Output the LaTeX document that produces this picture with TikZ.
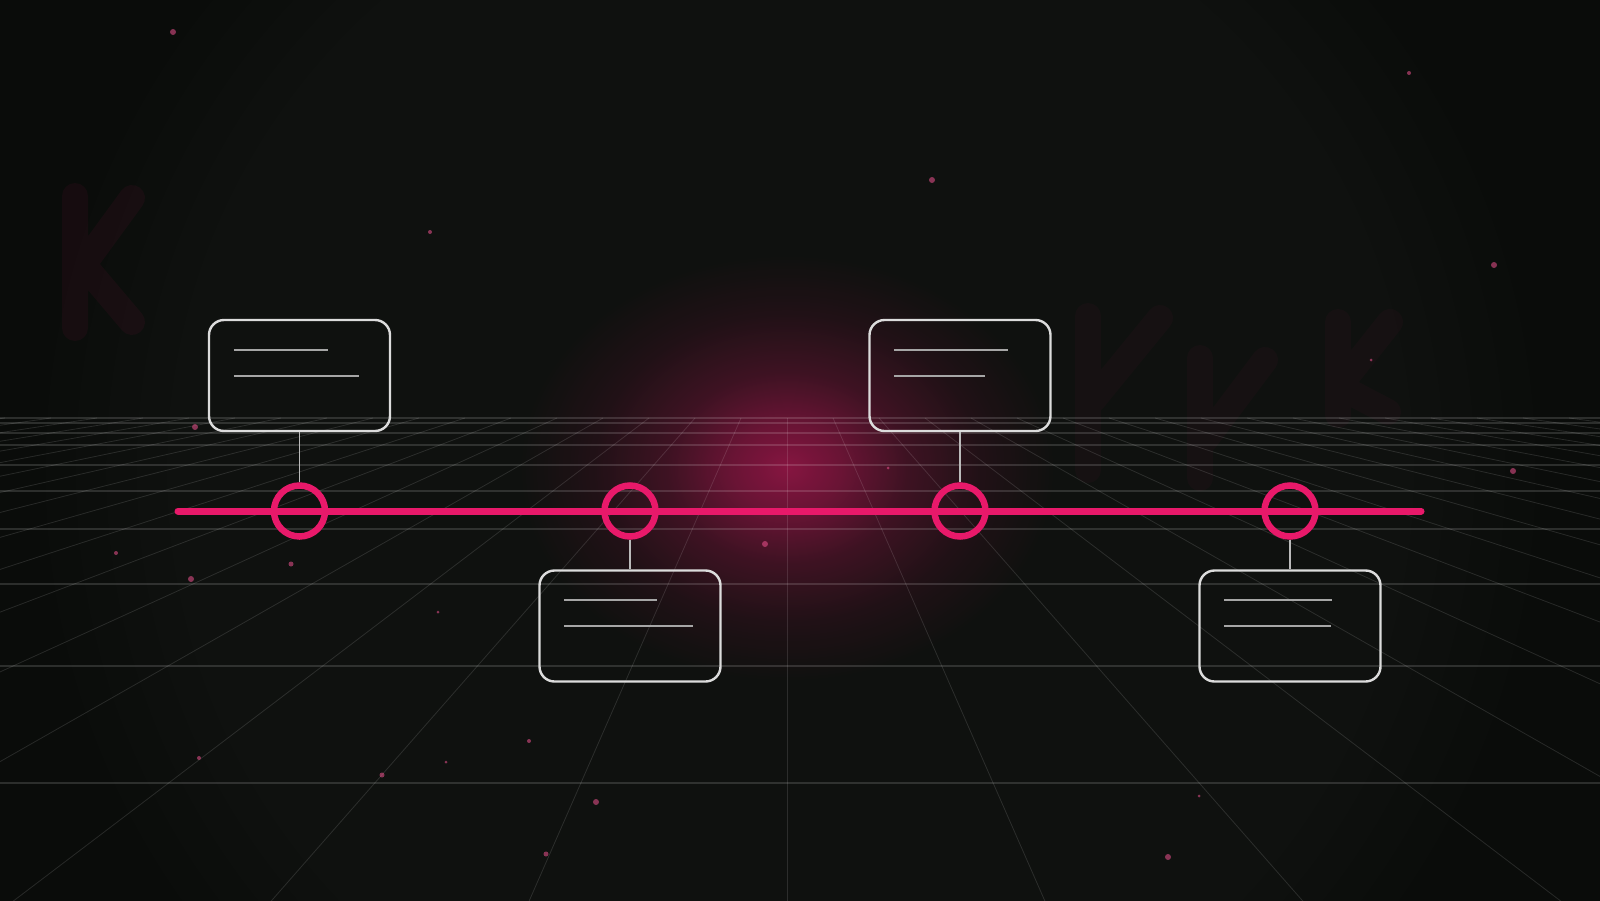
\documentclass[tikz,border=0pt]{standalone}
\usetikzlibrary{calc,fadings}

\definecolor{bgdark}{HTML}{0A0C0A}
\definecolor{hotpink}{HTML}{E8196A}
\definecolor{boxline}{HTML}{DCDCDC}
\definecolor{textline}{HTML}{A6A6A6}
\definecolor{haze}{HTML}{0F110F}
\pgfdeclareradialshading{glowmask}{\pgfpoint{0bp}{0bp}}{color(0bp)=(white!55!black); color(5bp)=(white!42!black); color(11bp)=(white!22!black); color(18bp)=(white!8!black); color(25bp)=(black); color(50bp)=(black)}
\pgfdeclarefading{glowfade}{\pgfuseshading{glowmask}}
\pgfdeclareradialshading{bghaze}{\pgfpoint{0bp}{0bp}}{color(0bp)=(haze); color(20bp)=(haze); color(25bp)=(bgdark); color(50bp)=(bgdark)}

\begin{document}
\begin{tikzpicture}[x=1pt, y=-1pt,
    milestone/.style={circle, draw=hotpink, line width=6.5pt, minimum size=51pt, inner sep=0pt},
    card/.style={draw=boxline, line width=2.4pt, rounded corners=15pt, minimum width=181pt, minimum height=111pt, inner sep=0pt},
    stub/.style={draw=boxline!85!black, line width=1.8pt},
    textbar/.style={draw=textline, line width=2.2pt},
    gridline/.style={white, opacity=0.12, line width=0.8pt},
    speck/.style={fill=hotpink!75!white, opacity=0.55},
    ghostk/.style={hotpink, opacity=0.055, line width=26pt, line cap=round}]
    \useasboundingbox (0,0) rectangle (1600,900);
    \fill [bgdark] (-4,-4) rectangle (1604,904);
    \clip (-4,-4) rectangle (1604,904);
    \shade [shading=bghaze] (790,470) circle (760);
    \fill [hotpink, path fading=glowfade] (787,468) ellipse (270 and 215);

    \draw [ghostk] (75,196) -- (75,328) (78,272) -- (132,198) (88,270) -- (132,322);
    \draw [ghostk, opacity=0.035] (1088,316) -- (1088,470) (1093,400) -- (1160,318);
    \draw [ghostk, opacity=0.035] (1200,358) -- (1200,478) (1205,440) -- (1265,360);
    \draw [ghostk, opacity=0.035] (1338,322) -- (1338,415) (1340,385) -- (1390,322) (1346,390) -- (1388,412);

    \foreach \gy in {418,423,433,445,465,491,529,584,666,783}
        \draw [gridline, opacity=0.14, line width=1.1pt] (-4,\gy) -- (1604,\gy);
    \foreach \gk in {-17,...,17}
        \draw [gridline] ({787+46*\gk},418) -- ({787+259.2*\gk},904);

    \foreach \px/\py/\pr in {173/32/3, 1409/73/2, 932/180/3, 430/232/2, 1494/265/3,
        195/427/3, 1371/360/1.5, 888/468/1.5, 1513/471/3, 765/544/3, 116/553/2,
        291/564/2.5, 191/579/3, 438/612/1.5, 529/741/2, 446/762/1.5, 199/758/2,
        382/775/2.5, 596/802/3, 546/854/2.5, 1199/796/1.5, 1168/857/3}
        \fill [speck] (\px,\py) circle (\pr);

    \coordinate (tstart) at (178,511);
    \coordinate (tend) at (1421,511);
    \draw [hotpink, line width=7pt, line cap=round] (tstart) -- (tend);

    \foreach \n/\cx in {1/299.5, 2/630, 3/960, 4/1290}
        \node [milestone] (m\n) at (\cx,511) {};

    \node [card] (c1) at (299.5,375.5) {};
    \node [card] (c2) at (630,626) {};
    \node [card] (c3) at (960,375.5) {};
    \node [card] (c4) at (1290,626) {};

    \draw [stub] (c1.south) -- (m1.north);
    \draw [stub] (m2.south) -- (c2.north);
    \draw [stub] (c3.south) -- (m3.north);
    \draw [stub] (m4.south) -- (c4.north);

    \foreach \cn/\la/\lb in {c1/94/125, c2/93/129, c3/114/91, c4/108/107} {
        \draw [textbar] ($(\cn.north west)+(26,31)$) -- ++(\la,0);
        \draw [textbar] ($(\cn.north west)+(26,57)$) -- ++(\lb,0);
    }
\end{tikzpicture}
\end{document}
